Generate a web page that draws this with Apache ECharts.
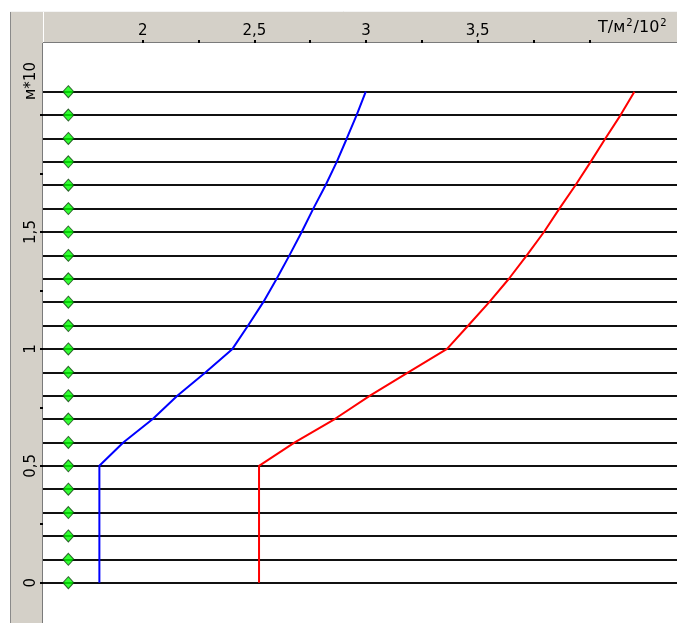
<!DOCTYPE html>
<html>
<head>
<meta charset="utf-8">
<script src="https://cdn.jsdelivr.net/npm/echarts@6/dist/echarts.min.js"></script>
<style>
html,body{margin:0;padding:0;background:#fff;}
#chart{width:677px;height:623px;}
</style>
</head>
<body>
<div id="chart"></div>
<script>
// depth levels (м*10)
const levels = [0, 0.1, 0.2, 0.3, 0.4, 0.5, 0.6, 0.7, 0.8, 0.9, 1.0, 1.1, 1.2, 1.3, 1.4, 1.5, 1.6, 1.7, 1.8, 1.9, 2.0, 2.1];
// blue profile (Т/м²/10²) at each level
const blueX = [1.806, 1.806, 1.806, 1.806, 1.806, 1.806, 1.913, 2.045, 2.155, 2.282, 2.402, 2.472, 2.540, 2.600, 2.657, 2.712, 2.764, 2.819, 2.869, 2.914, 2.958, 2.999];
// red profile (Т/м²/10²) at each level
const redX = [2.521, 2.521, 2.521, 2.521, 2.521, 2.521, 2.681, 2.860, 3.018, 3.189, 3.363, 3.458, 3.552, 3.640, 3.720, 3.797, 3.866, 3.938, 4.006, 4.072, 4.140, 4.202];
// marker column position
const markerX = 1.667;
// tick/label values
const xTicks = [2, 2.25, 2.5, 2.75, 3, 3.25, 3.5, 3.75, 4];
const xLabels = [2, 2.5, 3, 3.5];
const yTicks = [0, 0.25, 0.5, 0.75, 1, 1.25, 1.5, 1.75, 2];
const yLabels = [0, 0.5, 1, 1.5];
const yUnit = 'м*10';

const chart = echarts.init(document.getElementById('chart'), null, {renderer: 'canvas'});
const rulerGrey = '#d4d0c8';
const fontFam = 'DejaVu Sans';
const fmt = v => String(v).replace('.', ',');

const option = {
  animation: false,
  backgroundColor: '#ffffff',
  grid: {left: 43, top: 43, right: 0, bottom: 0, containLabel: false},
  graphic: [
    {type: 'rect', z: 0, shape: {x: 10, y: 11, width: 667, height: 32}, style: {fill: rulerGrey}},
    {type: 'rect', z: 0, shape: {x: 10, y: 43, width: 33, height: 580}, style: {fill: rulerGrey}},
    {type: 'line', z: 1, shape: {x1: 10.5, y1: 11, x2: 10.5, y2: 623}, style: {stroke: '#8a8a8a', lineWidth: 1}},
    {type: 'line', z: 1, shape: {x1: 10, y1: 11.5, x2: 677, y2: 11.5}, style: {stroke: '#f4f4f4', lineWidth: 1}},
    {type: 'line', z: 1, shape: {x1: 43.5, y1: 12, x2: 43.5, y2: 43}, style: {stroke: '#ffffff', lineWidth: 1}},
    {type: 'line', z: 1, shape: {x1: 43, y1: 42.5, x2: 677, y2: 42.5}, style: {stroke: '#7a7a7a', lineWidth: 1}},
    {type: 'line', z: 1, shape: {x1: 42.5, y1: 43, x2: 42.5, y2: 623}, style: {stroke: '#7a7a7a', lineWidth: 1}},
    {type: 'text', z: 20, x: 598, y: 38,
      style: {text: '{n|Т/м}{s|2}{n|/10}{s|2}', align: 'left', verticalAlign: 'bottom',
        rich: {n: {fontFamily: fontFam, fontSize: 16, fill: '#000'}, s: {fontFamily: fontFam, fontSize: 10, fill: '#000', padding: [0, 1, 10, 1]}}}},
    {type: 'text', z: 20, x: 39, y: 81, rotation: Math.PI / 2,
      style: {text: yUnit, align: 'center', verticalAlign: 'bottom', fontFamily: fontFam, fontSize: 15, fill: '#000'}}
  ],
  xAxis: {
    type: 'value', position: 'top', min: 1.5535, max: 4.3928, z: 10,
    axisLine: {show: false, onZero: false},
    splitLine: {show: false},
    axisTick: {show: true, customValues: xTicks, length: 3, inside: false, lineStyle: {color: '#000', width: 2}},
    axisLabel: {show: true, customValues: xLabels, margin: 4, formatter: fmt, color: '#000', fontFamily: fontFam, fontSize: 15}
  },
  yAxis: {
    type: 'value', position: 'left', min: -0.1724, max: 2.3084, z: 10,
    axisLine: {show: false, onZero: false},
    splitLine: {show: false},
    axisTick: {show: true, customValues: yTicks, length: 3, inside: false, lineStyle: {color: '#000', width: 2}},
    axisLabel: {show: true, customValues: yLabels, rotate: 90, margin: 4, formatter: fmt, color: '#000', fontFamily: fontFam, fontSize: 15}
  },
  series: [
    {
      type: 'scatter', name: 'levels', z: 4,
      symbol: 'diamond', symbolSize: [11, 12],
      itemStyle: {color: '#00ff00', borderColor: '#144014', borderWidth: 1},
      data: levels.map(v => [markerX, v]),
      markLine: {
        silent: true, symbol: 'none', z: 1, label: {show: false},
        lineStyle: {color: '#111', width: 2, type: 'solid'},
        emphasis: {disabled: true},
        data: levels.map(v => ({yAxis: v}))
      }
    },
    {
      type: 'line', name: 'blue', z: 3, showSymbol: false, symbol: 'none',
      lineStyle: {color: '#0000ff', width: 2},
      data: levels.map((v, i) => [blueX[i], v])
    },
    {
      type: 'line', name: 'red', z: 3, showSymbol: false, symbol: 'none',
      lineStyle: {color: '#ff0000', width: 2},
      data: levels.map((v, i) => [redX[i], v])
    }
  ]
};
chart.setOption(option);
</script>
</body>
</html>
